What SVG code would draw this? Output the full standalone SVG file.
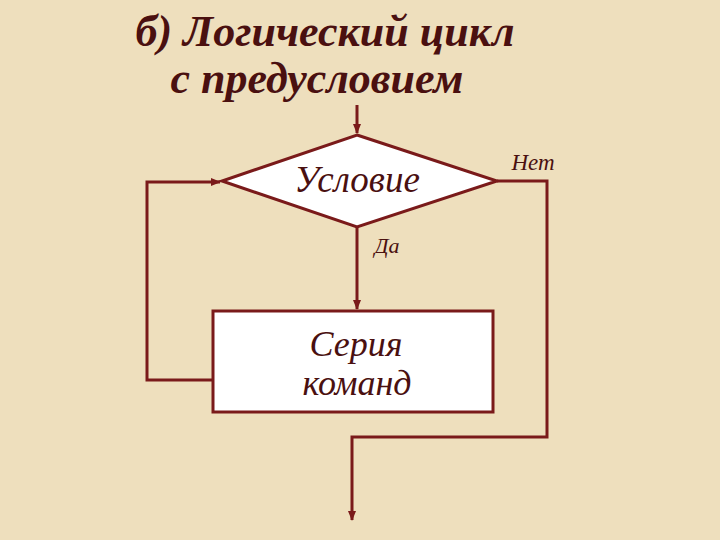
<svg xmlns="http://www.w3.org/2000/svg" width="720" height="540" viewBox="0 0 720 540">
<defs>
<marker id="ar" markerWidth="10" markerHeight="10" refX="9" refY="5" orient="auto" markerUnits="userSpaceOnUse"><path d="M0,1 L10,5 L0,9 Z" fill="#7a1a1a"/></marker>
<style>
.t{font-family:"Liberation Serif",serif;font-style:italic;fill:#4a1010}
.s{fill:#fff;stroke:#7a1a1a;stroke-width:3}
.c{fill:none;stroke:#7a1a1a;stroke-width:3}
</style>
</defs>
<rect width="720" height="540" fill="#eedfbd"/>
<g id="title" class="t" font-weight="bold" font-size="44" text-anchor="middle">
<text x="325" y="46">б) Логический цикл</text>
<text x="317" y="93">с предусловием</text>
</g>
<g id="connectors">
<line class="c" x1="357" y1="105" x2="357" y2="133" marker-end="url(#ar)"/>
<line class="c" x1="357" y1="227" x2="357" y2="309" marker-end="url(#ar)"/>
<polyline class="c" points="213,380 147,380 147,182 220,182" marker-end="url(#ar)"/>
<polyline class="c" points="497,181 547,181 547,437 352,437 352,520" marker-end="url(#ar)"/>
<text class="t" x="387" y="253" font-size="22" text-anchor="middle">Да</text>
<text class="t" x="533" y="170" font-size="23" text-anchor="middle">Нет</text>
</g>
<g id="cond">
<polygon class="s" points="357,135 497,181 357,227 222,181"/>
<text class="t" x="357" y="192" font-size="37" text-anchor="middle">Условие</text>
</g>
<g id="series">
<rect class="s" x="213" y="311" width="280" height="101"/>
<text class="t" x="356" y="356" font-size="36" text-anchor="middle">Серия</text>
<text class="t" x="357" y="395" font-size="36" text-anchor="middle">команд</text>
</g>
</svg>
